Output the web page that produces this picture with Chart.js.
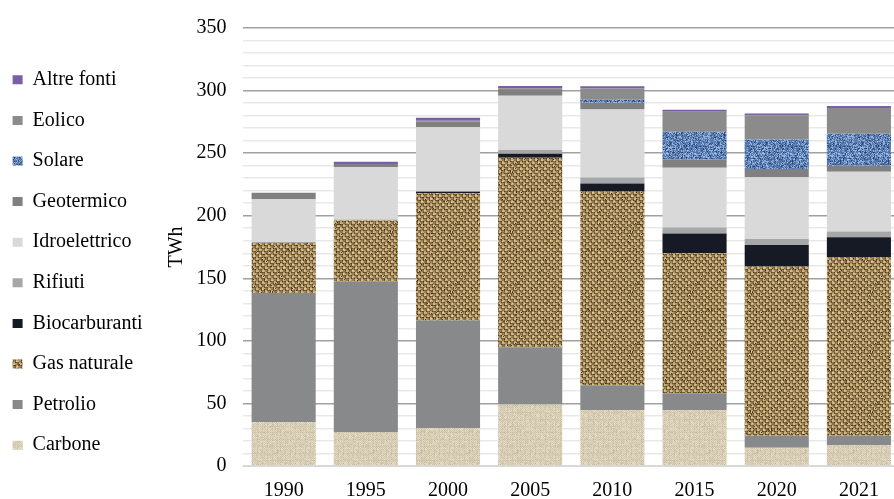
<!DOCTYPE html>
<html>
<head>
<meta charset="utf-8">
<script src="https://cdn.jsdelivr.net/npm/chart.js@4/dist/chart.umd.min.js"></script>
<style>
  html, body { margin: 0; padding: 0; background: #fff; overflow: hidden; }
  body { width: 894px; height: 499px; position: relative; }
  #chart { position: absolute; left: -8px; top: 0; }
</style>
</head>
<body>
<canvas id="chart" width="910" height="508"></canvas>
<script>
// Produzione elettrica per fonte (TWh)
const years = ['1990', '1995', '2000', '2005', '2010', '2015', '2020', '2021'];
const carbone = [35.1, 27.1, 30.3, 49.2, 44.7, 44.7, 14.6, 16.5];
const petrolio = [103.2, 120.4, 85.9, 45.7, 19.9, 13.5, 9.6, 7.7];
const gasNaturale = [39.9, 48.7, 101.8, 151.5, 154.7, 111.9, 135.3, 142.7];
const biocarburanti = [0, 0, 1.2, 3.2, 6.4, 15.7, 17.0, 15.9];
const rifiuti = [0.8, 0.8, 0.5, 2.9, 4.8, 4.8, 4.8, 4.5];
const idroelettrico = [34.3, 41.7, 50.9, 43.4, 54.4, 47.8, 49.4, 47.8];
const geotermico = [5.0, 2.7, 4.7, 4.5, 5.3, 6.6, 6.6, 4.8];
const solare = [0, 0, 0, 0, 2.4, 22.1, 23.7, 25.5];
const eolico = [0, 0, 0.6, 1.4, 9.0, 16.0, 19.1, 20.7];
const altreFonti = [0, 1.8, 2.4, 1.8, 1.9, 1.6, 1.6, 1.6];

const canvas = document.getElementById('chart');
const ctx = canvas.getContext('2d');

// small seeded generator, only used to give the fabric-like fills some grain
function rng(seed) {
    let s = seed >>> 0;
    return () => {
        s = (s * 1664525 + 1013904223) >>> 0;
        return s / 4294967296;
    };
}

function texture(size, seed, paint) {
    const c = document.createElement('canvas');
    c.width = c.height = size;
    const g = c.getContext('2d');
    const img = g.createImageData(size, size);
    const r = rng(seed);
    for (let y = 0; y < size; y++) {
        for (let x = 0; x < size; x++) {
            const col = paint(x, y, r);
            const i = (y * size + x) * 4;
            img.data[i] = Math.max(0, Math.min(255, col[0]));
            img.data[i + 1] = Math.max(0, Math.min(255, col[1]));
            img.data[i + 2] = Math.max(0, Math.min(255, col[2]));
            img.data[i + 3] = 255;
        }
    }
    g.putImageData(img, 0, 0);
    return ctx.createPattern(c, 'repeat');
}

function shade(base, d) {
    return [base[0] + d, base[1] + d, base[2] + d];
}

// linen (Carbone)
const linen = texture(48, 7, (x, y, r) => {
    let d = ((x % 2) ^ (y % 2)) ? 9 : -6;
    if (x % 5 === 0 || y % 7 === 0) d -= 9;
    d += (r() - 0.5) * 24;
    return shade([216, 207, 182], d);
});

// burlap (Gas naturale): plain weave, light threads over darker gaps
const burlap = texture(60, 13, (x, y, r) => {
    const hx = x % 3 === 2, hy = y % 3 === 2;
    let col;
    if (hx && hy) {
        col = [92, 72, 44];
    } else {
        const over = (Math.floor(x / 3) + Math.floor(y / 3)) % 2 === 0;
        const horizontalThread = !hy;
        col = (over === horizontalThread) ? [210, 186, 136] : [150, 124, 82];
        if (hx || hy) col = shade(col, -25);
    }
    if (r() < 0.04) col = [78, 60, 36];
    return shade(col, (r() - 0.5) * 36);
});

// denim (Solare)
const denim = texture(48, 29, (x, y, r) => {
    const k = r();
    let col = [82, 118, 172];
    if (k < 0.3) col = [140, 172, 214];
    else if (k > 0.82) col = [44, 72, 118];
    if (y % 3 === 0) col = shade(col, 12);
    return shade(col, (r() - 0.5) * 20);
});

const serif = "'Liberation Serif', 'Times New Roman', serif";

function ds(label, data, color) {
    return {
        label: label,
        data: data,
        backgroundColor: color,
        borderWidth: 0,
        stack: 'fonti',
        categoryPercentage: 1.0,
        barPercentage: 0.78
    };
}

const chart = new Chart(canvas, {
    type: 'bar',
    data: {
        labels: years,
        datasets: [
            ds('Carbone', carbone, linen),
            ds('Petrolio', petrolio, '#88898b'),
            ds('Gas naturale', gasNaturale, burlap),
            ds('Biocarburanti', biocarburanti, '#161a24'),
            ds('Rifiuti', rifiuti, '#a6a8a8'),
            ds('Idroelettrico', idroelettrico, '#d9d9d9'),
            ds('Geotermico', geotermico, '#808080'),
            ds('Solare', solare, denim),
            ds('Eolico', eolico, '#8b8b8b'),
            ds('Altre fonti', altreFonti, '#7b5ea8')
        ]
    },
    options: {
        responsive: false,
        animation: false,
        layout: { padding: { top: 14, right: 2, bottom: 0, left: 0 } },
        plugins: {
            tooltip: { enabled: false },
            legend: {
                position: 'left',
                align: 'start',
                reverse: true,
                title: { display: true, text: '', padding: { top: 34, bottom: 0 }, font: { size: 1 } },
                labels: {
                    boxWidth: 10,
                    boxHeight: 9,
                    padding: 20.6,
                    color: '#000',
                    font: { family: serif, size: 20 }
                }
            }
        },
        scales: {
            x: {
                stacked: true,
                grid: { display: false },
                border: { color: '#d9d9d9' },
                ticks: { color: '#000', padding: 5, font: { family: serif, size: 20 } }
            },
            y: {
                stacked: true,
                min: 0,
                max: 350,
                z: 1,
                border: { display: false },
                afterFit: scale => { scale.width -= 8; },
                grid: {
                    drawTicks: false,
                    lineWidth: 1.5,
                    color: c => {
                        const v = c.tick.value;
                        if (v === 0) return '#d9d9d9';
                        return v % 50 === 0 ? 'rgba(128,128,128,0.75)' : 'rgba(190,190,190,0.35)';
                    }
                },
                ticks: {
                    stepSize: 10,
                    autoSkip: false,
                    padding: 16,
                    color: '#000',
                    font: { family: serif, size: 20 },
                    callback: v => (v % 50 === 0 ? v : '')
                },
                title: {
                    display: true,
                    text: 'TWh',
                    color: '#000',
                    padding: { top: 12, bottom: 0 },
                    font: { family: serif, size: 20 }
                }
            }
        }
    }
});
</script>
</body>
</html>
